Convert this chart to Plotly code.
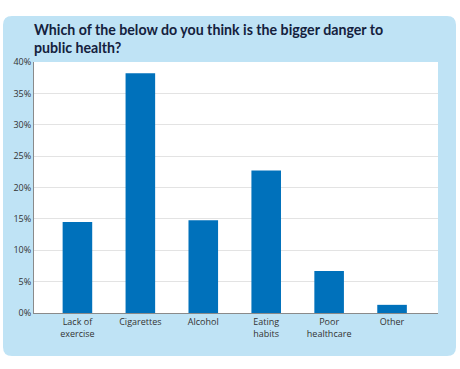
import plotly.graph_objects as go

categories = ["Lack of<br>exercise", "Cigarettes", "Alcohol", "Eating<br>habits", "Poor<br>healthcare", "Other"]
values = [14.5, 38.2, 14.8, 22.7, 6.7, 1.3]
tick_vals = [0, 5, 10, 15, 20, 25, 30, 35, 40]
tick_text = ["0%", "5%", "10%", "15%", "20%", "25%", "30%", "35%", "40%"]
title_lines = ["Which of the below do you think is the bigger danger to", "public health?"]

W, H = 460, 369
L, R, T, B = 34, 22, 62, 56
pw, ph = W - L - R, H - T - B

def px_x(x):
    return (x - L) / pw

def px_y(y):
    return (H - B - y) / ph

fig = go.Figure(go.Bar(x=list(range(len(categories))), y=values, marker_color="#0071bb",
                       marker_line_width=0, width=0.47))

# rounded panel
x0, x1, y0, y1, r = 3, 456, 16, 356, 9
path = (f"M {px_x(x0 + r)},{px_y(y0)} L {px_x(x1 - r)},{px_y(y0)} "
        f"Q {px_x(x1)},{px_y(y0)} {px_x(x1)},{px_y(y0 + r)} "
        f"L {px_x(x1)},{px_y(y1 - r)} Q {px_x(x1)},{px_y(y1)} {px_x(x1 - r)},{px_y(y1)} "
        f"L {px_x(x0 + r)},{px_y(y1)} Q {px_x(x0)},{px_y(y1)} {px_x(x0)},{px_y(y1 - r)} "
        f"L {px_x(x0)},{px_y(y0 + r)} Q {px_x(x0)},{px_y(y0)} {px_x(x0 + r)},{px_y(y0)} Z")
fig.add_shape(type="path", path=path, xref="paper", yref="paper", fillcolor="#bfe3f5",
              line_width=0, layer="below")
fig.add_shape(type="rect", x0=0, x1=1, y0=0, y1=1, xref="paper", yref="paper",
              fillcolor="white", line_width=0, layer="below")

fig.add_annotation(text="<b>" + "<br>".join(title_lines) + "</b>", xref="paper", yref="paper",
                   x=px_x(33), y=px_y(20.5), xanchor="left", yanchor="top",
                   align="left", showarrow=False, borderpad=0,
                   font=dict(family="Lato", size=14.2, color="#14213d"))

fig.update_layout(
    width=W, height=H, margin=dict(l=L, r=R, t=T, b=B),
    paper_bgcolor="white", plot_bgcolor="rgba(0,0,0,0)", showlegend=False,
    font=dict(family="Open Sans", size=9, color="#333333"),
    bargap=0.5,
)
fig.update_xaxes(tickmode="array", tickvals=list(range(len(categories))), ticktext=categories,
                 range=[-0.69, 5.73], showgrid=False, ticks="", showline=True,
                 linecolor="#8a8a8a", linewidth=1, tickfont=dict(size=9, color="#333"))
fig.update_yaxes(range=[0, 40], tickvals=tick_vals, ticktext=tick_text, showgrid=True,
                 gridcolor="#e3e3e3", gridwidth=1, showline=True, linecolor="#8a8a8a",
                 linewidth=1, ticks="", zeroline=False, tickfont=dict(size=9, color="#333"))

fig.write_html("out.html", config={"displayModeBar": False},
               post_script="document.body.style.margin='0';document.body.style.overflow='hidden';")
